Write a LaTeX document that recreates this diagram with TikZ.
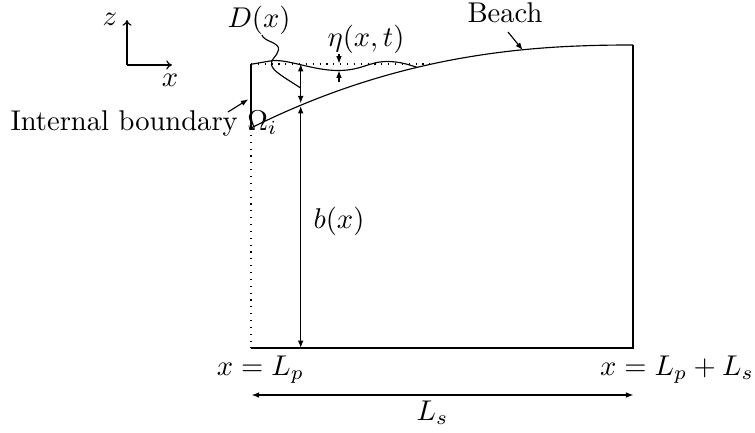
\documentclass[tikz,border=0pt]{standalone}
\usetikzlibrary{arrows.meta}
\begin{document}
\begin{tikzpicture}[x=0.35pt,y=-0.35pt,
  tipped/.style={-{Latex[length=2.6pt,width=2pt]}},
  dim/.style={{Latex[length=2.6pt,width=2pt]}-{Latex[length=2.6pt,width=2pt]}},
  axis/.style={-{To[length=2pt,width=3.2pt]}},
  lbl/.style={inner sep=0pt}]
\useasboundingbox (0,0) rectangle (755,432);
% axes
\coordinate (O) at (127,65);
\coordinate (zt) at (127,20);
\coordinate (xt) at (172,65);
\draw[axis] (O) -- (zt);
\draw[axis] (O) -- (xt);
\node[lbl] (zl) at (110,19) {$z$};
\node[lbl] (xl) at (170,80) {$x$};
% box
\coordinate (TL) at (251,64.3);
\coordinate (WB) at (251,128);
\coordinate (BL) at (251,348);
\coordinate (BR) at (633,348);
\coordinate (TR) at (633,45);
\draw (TL) -- (WB);
\draw[dotted] (WB) -- (BL);
\draw (BL) -- (BR) -- (TR);
% bed (beach profile)
\draw plot[domain=251:632,samples=80] (\x,{45+83*((633-\x)/382)^2.3}) -- (TR);
% free surface
\draw (TL) -- (270,61) .. controls (286,58) and (312,70.5) .. (338,70.5)
  .. controls (362,70.5) and (369,61.5) .. (387,61.5)
  .. controls (400,61.5) and (408,64.5) .. (417,67.3);
\coordinate (SWL) at (430,64);
\draw[dotted] (251,64) -- (SWL);
% labels
\node[lbl] (D) at (259,20) {$D(x)$};
\node[lbl] (eta) at (366,39) {$\eta(x,t)$};
\node[lbl] (b) at (339,221) {$b(x)$};
\node[lbl] (beach) at (505,12.5) {Beach};
\node[lbl,anchor=base west] (ib) at (10,130) {Internal boundary $\Omega_i$};
\node[lbl,anchor=base] (xlp) at (260.5,375) {$x=L_p$};
\node[lbl,anchor=base] (xlps) at (677,375) {$x=L_p+L_s$};
\node[lbl,anchor=base] (Ls) at (432.5,420) {$L_s$};
% D arrow and squiggle
\coordinate (Dtop) at (300.7,64);
\coordinate (Dbot) at (300.7,103.3);
\coordinate (Dmid) at (300.7,88);
\draw[dim] (Dtop) -- (Dbot);
\draw ([xshift=1pt]D.south) .. controls (264,42) and (280,42) .. (278.5,50)
  .. controls (277,57) and (270,59) .. (271.5,65)
  .. controls (273,71) and (282,76) .. (Dmid);
% b arrow
\coordinate (btop) at (300.7,106);
\coordinate (bbot) at (300.7,348);
\draw[dim] (btop) -- (bbot);
% eta arrows
\coordinate (e1s) at (339,54);
\coordinate (e1t) at (339,63.5);
\coordinate (e2s) at (339,82);
\coordinate (e2t) at (339,70.5);
\draw[tipped] (e1s) -- (e1t);
\draw[tipped] (e2s) -- (e2t);
% beach arrow
\coordinate (bs) at (508,32);
\coordinate (bt) at (522.7,50);
\draw[tipped] (bs) -- (bt);
% internal boundary arrow
\coordinate (ibs) at (228,112);
\coordinate (ibt) at (248.3,99.3);
\draw[tipped] (ibs) -- (ibt);
% Ls arrow
\coordinate (Lsl) at (251.7,395);
\coordinate (Lsr) at (633.3,395);
\draw[dim] (Lsl) -- (Lsr);
\end{tikzpicture}
\end{document}
